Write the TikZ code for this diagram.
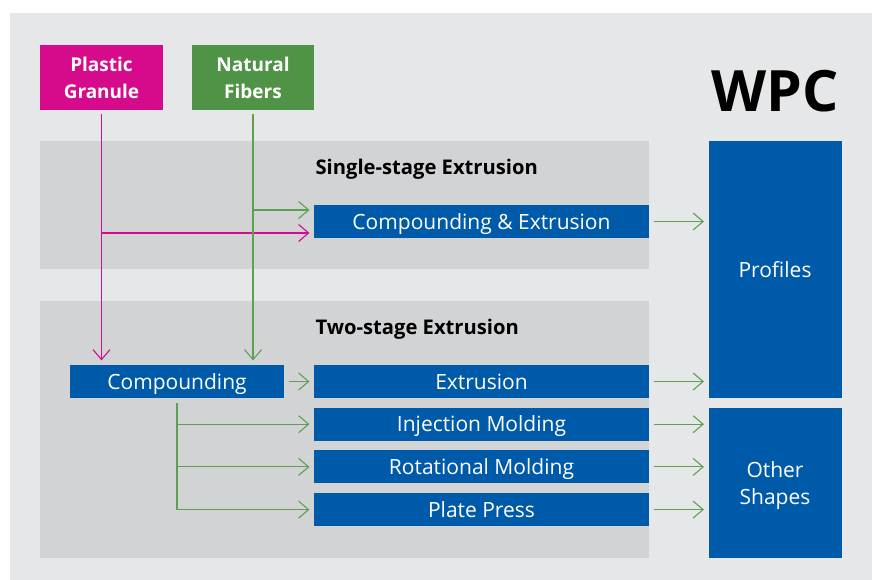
\documentclass[tikz,border=0pt]{standalone}
\usepackage{fontspec}
\setmainfont{Open Sans}
\usepackage{tikz}
\usetikzlibrary{arrows.meta, positioning}

\definecolor{wpcblue}{HTML}{005AAA}
\definecolor{wpcmag}{HTML}{D60B8C}
\definecolor{wpcgreen}{HTML}{4F9346}
\definecolor{wpcline}{HTML}{5E9F53}
\definecolor{wpcbg}{HTML}{E6E7E9}
\definecolor{wpcpanel}{HTML}{D2D3D5}

\begin{document}
\begin{tikzpicture}[x=1pt,y=-1pt,>={Straight Barb[length=10pt,width=17pt]},
                    shorten >=4pt,auto,node distance=42.7pt,
                    line width=1.1pt]
\tikzstyle{proc}=[fill=wpcblue,text=white,inner sep=0pt,minimum width=335pt,minimum height=33pt,
                  text height=15pt,text depth=0pt]
\tikzstyle{src}=[text=white,inner sep=0pt,minimum width=123pt,minimum height=65pt,align=center,
                 font=\fontsize{19pt}{27pt}\selectfont\bfseries]
\tikzstyle{res}=[fill=wpcblue,text=white,inner sep=0pt,minimum width=133pt,align=center]
\tikzstyle{panel}=[fill=wpcpanel,inner sep=0pt,minimum width=609pt]
\tikzstyle{head}=[anchor=west,inner sep=0pt,text height=14.5pt,text depth=0pt,
                  font=\fontsize{20.2pt}{24pt}\selectfont\bfseries]
\tikzset{font=\fontsize{21pt}{27pt}\selectfont}

        \useasboundingbox (0,0) rectangle (872,580);
        \fill[white] (0,0) rectangle (872,580);
        \fill[wpcbg] (10,13) rectangle (872,580);

        % raw materials
        \node[src, fill=wpcmag]                        (pg)  at (101.5,77.5)  {Plastic\\Granule};
        \node[src, fill=wpcgreen, minimum width=122pt] (nf)  at (253,77.5)    {Natural\\Fibers};
        \node[inner sep=0pt, font=\fontsize{57pt}{60pt}\selectfont\bfseries]
                                                       (wpc) at (775,91)      {WPC};

        % single stage
        \node[panel, minimum height=128pt]             (s1)  at (344.5,205)   {};
        \node[head]                                    (t1)  at (315,167)     {Single-stage Extrusion};
        \node[proc]                                    (ce)  at (481.5,221.5) {Compounding \& Extrusion};

        % two stage
        \node[panel, minimum height=257pt]             (s2)  at (344.5,429.5) {};
        \node[head]                                    (t2)  at (315,327)     {Two-stage Extrusion};
        \node[proc]                                    (ex)  at (481.5,381.5) {Extrusion};
        \node[proc]                                    (im)  [below of=ex]    {Injection Molding};
        \node[proc]                                    (rm)  [below of=im]    {Rotational Molding};
        \node[proc]                                    (pp)  [below of=rm]    {Plate Press};
        \node[proc, minimum width=214pt]               (cp)  at (177,381.5)   {Compounding};

        % products
        \node[res, minimum height=257pt, text height=15pt, text depth=0pt]
                                                       (prof) at (775,269.5)  {Profiles};
        \node[res, minimum height=150pt, text depth=0pt]
                                                       (oth)  at (775,483)    {Other\\Shapes};

        \coordinate (gin) at ([yshift=11.5pt]ce.west);
        \coordinate (min) at ([yshift=-11.5pt]ce.west);

        \draw[->, wpcmag, shorten <=3pt] (pg.south) -- (pg.south |- cp.north);
        \draw[->, wpcmag] (pg.south |- min) -- (min);
        \draw[->, wpcline, shorten <=3pt] (nf.south) -- (nf.south |- cp.north);
        \draw[->, wpcline] (nf.south |- gin) -- (gin);

        \draw[->, wpcline, shorten <=4pt] (cp.south) -- (cp.south |- pp.west) -- (pp.west);
        \draw[->, wpcline] (cp.south |- im.west) -- (im.west);
        \draw[->, wpcline] (cp.south |- rm.west) -- (rm.west);

        \path[->, draw=wpcline, shorten <=4pt]
        (cp)   edge (ex)
        (ce)   edge (ce -| prof.west)
        (ex)   edge (ex -| prof.west)
        (im)   edge (im -| oth.west)
        (rm)   edge (rm -| oth.west)
        (pp)   edge (pp -| oth.west)
        ; %end path

\end{tikzpicture}
\end{document}
